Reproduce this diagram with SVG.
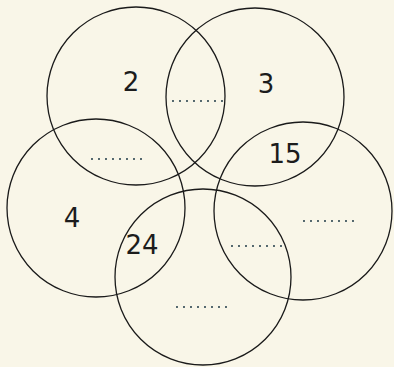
<svg xmlns="http://www.w3.org/2000/svg" width="394" height="367" viewBox="0 0 394 367">
<style>
.c{fill:none;stroke:#1a1a1a;stroke-width:1.3}
.t{font-family:"DejaVu Sans","Noto Sans",sans-serif;font-size:26px;fill:#1c1c1c;text-anchor:middle}
.d{stroke:#1f3a46;stroke-width:2;stroke-linecap:round;stroke-dasharray:0 7}
</style>
<rect width="394" height="367" fill="#f9f6e8"/>
<g id="circleA"><circle class="c" cx="136" cy="96" r="89"/><text class="t" x="131" y="91">2</text></g>
<g id="circleB"><circle class="c" cx="255" cy="97" r="89"/><text class="t" x="266" y="93">3</text></g>
<g id="circleC"><circle class="c" cx="96" cy="208" r="89"/><text class="t" x="72" y="227">4</text></g>
<g id="circleD"><circle class="c" cx="303" cy="211" r="89"/><text class="t" x="285" y="163">15</text></g>
<g id="circleE"><circle class="c" cx="203" cy="277" r="88"/><text class="t" x="142" y="254">24</text></g>
<g id="blanks">
<line class="d" x1="173" y1="101" x2="222.5" y2="101"/>
<line class="d" x1="92" y1="159" x2="141.5" y2="159"/>
<line class="d" x1="304" y1="221" x2="353.5" y2="221"/>
<line class="d" x1="232" y1="246" x2="281.5" y2="246"/>
<line class="d" x1="177" y1="307" x2="226.5" y2="307"/>
</g>
</svg>
